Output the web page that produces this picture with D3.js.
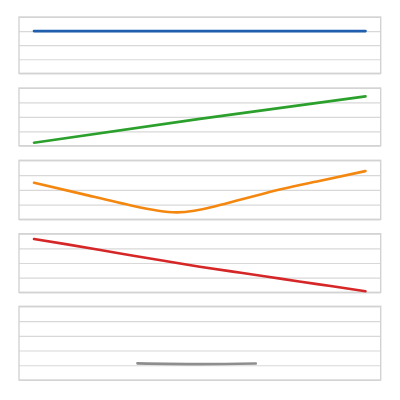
<!DOCTYPE html>
<html><head><meta charset="utf-8">
<script src="https://cdn.jsdelivr.net/npm/d3@7"></script>
<style>html,body{margin:0;padding:0;background:#fff}svg{display:block}</style>
</head><body>
<svg id="chart" width="400" height="400"></svg>
<script>
// ---- data ----
const seriesNames = ["blue", "green", "orange", "red", "grey"];
const xBlue   = [0, 10];
const yBlue   = [3, 3];
const xGreen  = [0, 5, 10];
const yGreen  = [0.21, 1.86, 3.42];
const xOrange = [0, 1.5, 3, 4.3, 5.5, 7, 8.5, 10];
const yOrange = [2.48, 1.69, 0.90, 0.47, 0.90, 1.79, 2.55, 3.27];
const xRed    = [0, 1, 2, 3, 4, 5, 6, 7, 8, 9, 10];
const yRed    = [3.64, 3.27, 2.89, 2.50, 2.12, 1.75, 1.41, 1.08, 0.74, 0.41, 0.07];
const xGrey   = [3.12, 5, 6.69];
const yGrey   = [1.13, 1.08, 1.12];
const yMax    = [4, 4, 4, 4, 5];   // number of grid bands per panel
const colors  = ["#1f5fae", "#2ca02c", "#f3870f", "#d62728", "#8e8e8e"];

// ---- layout ----
const panelTop    = [17, 88, 160.3, 233.7, 306.3];
const panelBottom = [73.3, 145.7, 219.3, 292.3, 380];
const left = 19, right = 380.7, plotL = 34, plotR = 365.5;

const xs = [xBlue, xGreen, xOrange, xRed, xGrey];
const ys = [yBlue, yGreen, yOrange, yRed, yGrey];

const svg = d3.select("#chart");
const x = d3.scaleLinear().domain([0, 10]).range([plotL, plotR]);

seriesNames.forEach((name, i) => {
  const y = d3.scaleLinear().domain([0, yMax[i]]).range([panelBottom[i], panelTop[i]]);
  const g = svg.append("g").attr("class", "panel " + name);
  g.append("g")
    .attr("transform", `translate(${left},0)`)
    .call(d3.axisLeft(y).ticks(yMax[i]).tickSize(-(right - left)).tickFormat(""))
    .call(a => a.select(".domain").remove())
    .call(a => a.selectAll("line").attr("stroke", "#d8d8d8").attr("stroke-width", 1.2));
  g.append("rect")
    .attr("x", left).attr("y", panelTop[i])
    .attr("width", right - left).attr("height", panelBottom[i] - panelTop[i])
    .attr("fill", "none").attr("stroke", "#d3d3d3").attr("stroke-width", 1.4);
  const data = xs[i].map((v, k) => [v, ys[i][k]]);
  g.append("path")
    .datum(data)
    .attr("fill", "none")
    .attr("stroke", colors[i])
    .attr("stroke-width", 2.6)
    .attr("stroke-linecap", "round")
    .attr("d", d3.line().x(d => x(d[0])).y(d => y(d[1])).curve(d3.curveNatural));
});
</script>
</body></html>
